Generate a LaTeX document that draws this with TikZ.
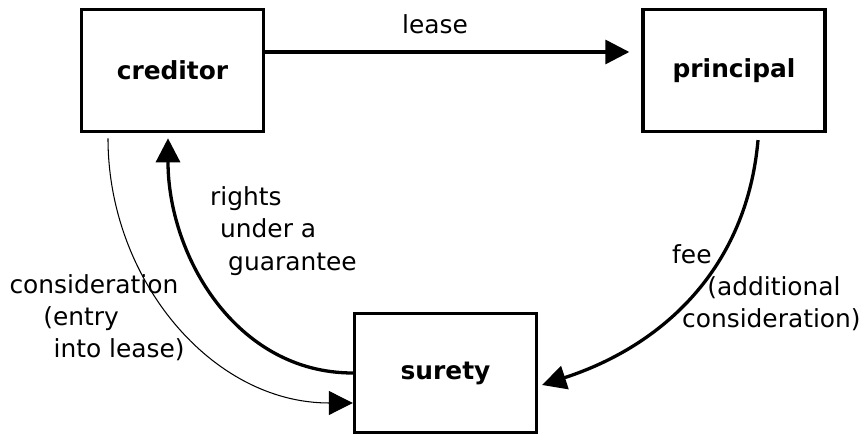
\documentclass[tikz,border=0pt]{standalone}
\usepackage{fontspec}
\setmainfont{DejaVu Sans}
\usepackage{tikz}
\usetikzlibrary{arrows.meta}
\usetikzlibrary{positioning}
\newcommand{\diagfont}{\fontsize{23.6}{30.6}\selectfont}
\tikzset{>={Triangle[length=0.8cm, width=0.8cm]}}
\tikzstyle{party} = [rectangle, draw, line width=0.11cm, minimum width=6.07cm, minimum height=4.07cm, font=\diagfont\bfseries]
\tikzstyle{flow} = [->, line width=0.11cm]
\tikzstyle{note} = [inner sep=0, align=left, anchor=base west, font=\diagfont]

\begin{document}
\begin{tikzpicture}
\useasboundingbox (0, 0) rectangle (28.767, -14.533);
\node [party] (creditor) at (5.75, -2.35) {creditor};
\node [party] (principal) at (24.467, -2.35) {principal};
\node [party, minimum height=3.97cm] (surety) at (14.85, -12.433) {surety};
\draw [flow] ([yshift=0.617cm]creditor.east) to ([xshift=-0.4cm, yshift=0.617cm]principal.west);
\draw [flow, out=180, in=-90] (surety.west) to ([xshift=-0.15cm, yshift=-0.17cm]creditor.south);
\draw [flow, line width=0.035cm, out=-90, in=180] ([xshift=-2.15cm, yshift=-0.17cm]creditor.south) to ([yshift=-1cm]surety.west);
\draw [flow, out=-95, in=18] ([xshift=0.8cm, yshift=-0.23cm]principal.south) to ([xshift=0.13cm, yshift=-0.4cm]surety.east);
\node [note, anchor=base] (lease) at (14.5, -1.1) {lease};
\node [note] (rights) at (7.0, -9.0) {rights\\\hspace*{0.33cm}under a\\\hspace*{0.6cm}guarantee};
\node [note] (entry) at (0.31, -11.93) {consideration\\\hspace*{1.13cm}(entry\\\hspace*{1.47cm}into lease)};
\node [note] (fee) at (22.4, -10.933) {fee\\\hspace*{1.17cm}(additional\\\hspace*{0.33cm}consideration)};
\end{tikzpicture}
\end{document}
